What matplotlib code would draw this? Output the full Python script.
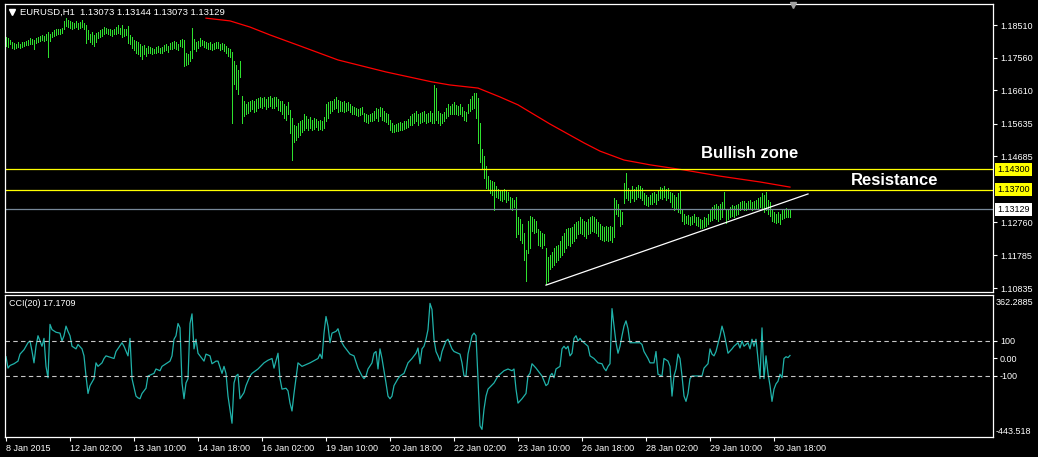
import numpy as np
import matplotlib
matplotlib.use("Agg")
import matplotlib.pyplot as plt
import matplotlib.transforms as mtransforms

plt.rcParams['font.family'] = ['Liberation Sans', 'DejaVu Sans']

# EURUSD H1 bars, in points above 1.1000 (1 pt = 0.0001)
high_pts = [
    815, 812, 808, 800, 798, 795, 800, 797, 802, 800, 805, 808, 813, 810, 808, 812, 815, 820, 822, 818,
    824, 831, 825, 832, 836, 838, 840, 838, 842, 862, 870, 866, 862, 860, 858, 862, 856, 860, 865, 858,
    851, 835, 826, 830, 822, 828, 832, 835, 840, 845, 842, 840, 838, 836, 840, 845, 852, 842, 850, 838,
    840, 848, 822, 815, 808, 805, 800, 795, 790, 792, 785, 790, 788, 785, 782, 786, 790, 785, 788, 792,
    795, 790, 798, 800, 805, 802, 795, 808, 810, 807, 770, 765, 775, 842, 810, 800, 805, 812, 808, 805,
    802, 798, 800, 795, 798, 800, 802, 796, 798, 795, 790, 785, 780, 772, 745, 735, 720, 745, 645, 630,
    620, 625, 630, 632, 628, 635, 638, 640, 637, 642, 635, 640, 645, 638, 640, 642, 635, 630, 630, 620,
    615, 625, 603, 580, 560, 555, 565, 570, 575, 590, 585, 578, 582, 575, 580, 577, 572, 575, 572, 582,
    620, 625, 630, 628, 635, 640, 632, 630, 625, 628, 622, 625, 620, 615, 612, 610, 605, 608, 612, 595,
    590, 588, 592, 595, 600, 610, 605, 612, 610, 600, 595, 590, 575, 565, 560, 562, 565, 568, 565, 570,
    572, 578, 585, 590, 595, 600, 590, 595, 598, 600, 592, 595, 600, 595, 676, 667, 600, 595, 590, 598,
    610, 620, 615, 620, 625, 618, 615, 620, 612, 600, 598, 620, 635, 645, 652, 652, 638, 565, 490, 470,
    440, 410, 400, 395, 392, 380, 372, 368, 370, 372, 368, 365, 350, 345, 340, 349, 290, 285, 270, 244,
    194, 280, 295, 290, 285, 280, 255, 250, 245, 240, 200, 175, 180, 190, 200, 205, 210, 220, 235, 245,
    255, 260, 258, 262, 270, 275, 280, 290, 285, 280, 275, 285, 290, 295, 292, 285, 275, 270, 265, 262,
    265, 262, 265, 262, 346, 340, 330, 310, 305, 390, 419, 375, 370, 380, 372, 378, 385, 380, 375, 360,
    355, 350, 355, 360, 365, 358, 370, 378, 375, 380, 372, 375, 365, 360, 355, 350, 360, 367, 310, 300,
    295, 298, 292, 295, 300, 292, 290, 285, 282, 290, 288, 300, 310, 320, 325, 330, 322, 328, 335, 364,
    311, 315, 320, 325, 322, 326, 330, 335, 338, 336, 333, 337, 340, 335, 338, 340, 345, 350, 360, 355,
    365, 340, 335, 310, 305, 300, 305, 300, 315, 310, 318, 312, 315]
low_pts = [
    790, 788, 795, 785, 780, 783, 786, 784, 788, 790, 792, 793, 797, 795, 780, 798, 800, 805, 808, 803,
    806, 758, 805, 815, 820, 823, 826, 825, 828, 840, 848, 845, 843, 840, 842, 845, 838, 843, 845, 838,
    798, 810, 800, 795, 790, 800, 812, 815, 818, 825, 827, 825, 822, 820, 824, 826, 828, 824, 817, 820,
    822, 798, 795, 785, 778, 770, 765, 760, 752, 765, 760, 770, 768, 765, 768, 770, 772, 768, 770, 775,
    778, 772, 780, 782, 785, 780, 778, 790, 788, 730, 735, 738, 745, 755, 780, 775, 785, 790, 792, 788,
    785, 780, 782, 778, 780, 784, 785, 778, 782, 775, 770, 760, 757, 565, 680, 665, 650, 700, 565, 585,
    590, 595, 600, 605, 598, 600, 610, 612, 608, 615, 605, 612, 615, 610, 610, 615, 602, 600, 590, 580,
    575, 590, 536, 457, 510, 515, 525, 530, 540, 545, 550, 545, 550, 545, 548, 552, 545, 548, 545, 550,
    570, 580, 595, 600, 605, 610, 598, 600, 600, 598, 600, 602, 598, 590, 592, 588, 585, 588, 590, 570,
    568, 565, 570, 572, 575, 580, 570, 585, 575, 570, 568, 562, 545, 538, 540, 542, 543, 545, 545, 548,
    550, 552, 558, 560, 565, 570, 560, 565, 568, 572, 565, 568, 570, 565, 565, 574, 565, 560, 565, 570,
    580, 585, 590, 590, 592, 590, 588, 592, 586, 575, 570, 595, 600, 605, 610, 580, 507, 450, 430, 405,
    375, 370, 362, 355, 312, 350, 345, 340, 338, 342, 335, 340, 315, 312, 320, 232, 240, 225, 215, 165,
    105, 185, 200, 250, 245, 248, 210, 205, 200, 210, 95, 105, 140, 145, 150, 160, 165, 175, 180, 190,
    200, 210, 205, 215, 220, 230, 240, 245, 240, 235, 230, 240, 245, 250, 248, 245, 235, 228, 225, 222,
    225, 222, 225, 218, 232, 300, 295, 265, 270, 332, 346, 340, 335, 345, 338, 342, 350, 345, 340, 330,
    325, 322, 328, 330, 335, 328, 340, 345, 342, 348, 340, 345, 335, 320, 310, 315, 305, 302, 280, 270,
    272, 270, 268, 270, 275, 268, 265, 260, 258, 262, 265, 270, 278, 282, 288, 285, 280, 285, 290, 317,
    273, 285, 290, 295, 292, 298, 300, 312, 315, 312, 310, 315, 318, 312, 315, 318, 315, 320, 318, 305,
    310, 300, 295, 278, 275, 273, 275, 270, 285, 288, 292, 290, 292]

# moving average readings (bar index, points above 1.1000)
ma_bar = [100, 112, 122, 132, 147, 166, 190, 213, 222, 236, 247, 256, 272, 289, 297, 309, 322, 339, 357, 377, 392]
ma_pts = [871, 863, 845, 822, 790, 749, 714, 685, 676, 667, 641, 618, 562, 507, 483, 457, 443, 428, 410, 393, 378]

# CCI(20) readings
cci_bar = [0, 1, 2, 4, 6, 7, 9, 10, 11, 12, 13, 14, 15, 16, 17, 18, 19, 20, 21, 22,
           23, 25, 27, 28, 29, 30, 31, 32, 33, 35, 36, 38, 39, 40, 41, 42, 44, 45, 46, 48,
           49, 50, 54, 55, 58, 59, 61, 62, 63, 65, 66, 67, 68, 70, 71, 74, 75, 77, 78, 82,
           83, 84, 85, 86, 87, 88, 89, 90, 91, 92, 93, 94, 95, 96, 99, 100, 102, 103, 105, 106,
           108, 109, 110, 111, 113, 114, 115, 116, 117, 119, 120, 122, 123, 126, 129, 131, 133, 134, 136, 137,
           138, 140, 141, 142, 143, 144, 145, 146, 148, 152, 156, 157, 158, 159, 160, 161, 162, 163, 165, 166,
           168, 169, 171, 172, 174, 176, 178, 179, 180, 181, 183, 184, 185, 186, 187, 188, 189, 190, 191, 192,
           193, 194, 196, 197, 199, 201, 203, 204, 205, 206, 207, 208, 209, 210, 211, 212, 213, 214, 215, 216,
           217, 218, 220, 221, 223, 224, 227, 228, 229, 230, 231, 233, 234, 235, 236, 237, 238, 239, 240, 241,
           244, 246, 249, 251, 253, 254, 255, 256, 258, 259, 260, 261, 262, 263, 265, 266, 267, 268, 270, 271,
           272, 273, 274, 275, 277, 278, 279, 280, 281, 282, 283, 284, 285, 286, 287, 288, 291, 292, 294, 296,
           298, 299, 300, 301, 302, 303, 305, 306, 307, 308, 309, 310, 311, 312, 317, 318, 319, 321, 322, 324,
           325, 326, 328, 329, 331, 332, 333, 334, 335, 336, 337, 338, 339, 340, 341, 342, 343, 348, 349, 351,
           352, 353, 354, 355, 357, 358, 359, 360, 361, 363, 364, 366, 367, 368, 369, 371, 372, 373, 374, 375,
           377, 378, 379, 380, 381, 382, 383, 384, 385, 386, 387, 388, 389, 390, 391, 392]
cci_val = [10, -55, -40, -30, -15, 25, 50, 70, 90, 100, 42, -25, 70, 130, 100, 70, 115, -45, -110, 195,
           165, 150, 145, 100, 130, 185, 155, 130, 70, 55, 80, 55, 15, -100, -200, -155, -115, -25, -45, -25,
           0, 15, 0, 40, 90, 70, 15, 115, -115, -215, -225, -230, -200, -170, -100, -85, -60, -70, -45, -15,
           15, 110, 130, 200, 175, -140, -230, -140, -115, 200, 255, 55, 110, 30, -15, 25, 15, -30, -15, -15,
           -85, -45, -85, -215, -370, -140, -100, -90, -230, -195, -155, -100, -85, -60, -25, -10, 0, -55, 30, -115,
           -175, -170, -185, -255, -300, -200, -110, -25, -45, -25, 0, 25, 0, 145, 240, 185, 90, 145, 155, 170,
           90, 70, 40, 25, 15, -55, -100, -115, -100, -60, -25, 30, 40, -60, 55, 0, -70, -140, -215, -230,
           -215, -155, -115, -100, -85, -25, 0, 15, 30, 60, -30, 55, 70, 110, 165, 315, 280, 110, 40, 15,
           -15, 40, 100, 110, 55, 40, 25, -25, -100, -100, 25, 130, 145, 130, -115, -385, -405, -290, -215, -175,
           -140, -100, -70, -60, -70, -60, -175, -255, -230, -215, -200, -100, -85, -30, -55, -70, -85, -100, -155, -145,
           -100, -85, -110, -60, -45, 55, 70, 55, 70, 15, 30, 115, 130, 100, 115, 100, 70, 15, 0, -25,
           -30, -55, -70, -45, -30, 285, 90, 30, 70, 130, 185, 215, 170, 90, 90, 80, 40, 0, -25, -25,
           40, -90, -100, 0, -15, -45, -215, -100, -60, 25, 0, -100, -215, -245, -200, -115, -100, -100, -55, -30,
           55, 25, 15, 40, 130, 185, 145, 90, 30, 55, 70, 90, 60, 100, 70, 90, 55, 110, 70, 110,
           -115, 175, -115, 15, -85, -155, -245, -175, -145, -130, -90, -110, 0, 10, 5, 17.1709]

tick_bars = [0, 32, 64, 96, 128, 160, 192, 224, 256, 288, 320, 352, 384]
tick_labels = ['8 Jan 2015', '12 Jan 02:00', '13 Jan 10:00', '14 Jan 18:00', '16 Jan 02:00',
               '19 Jan 10:00', '20 Jan 18:00', '22 Jan 02:00', '23 Jan 10:00', '26 Jan 18:00',
               '28 Jan 02:00', '29 Jan 10:00', '30 Jan 18:00']
price_ticks = [1.18510, 1.17560, 1.16610, 1.15635, 1.14685, 1.12760, 1.11785, 1.10835]
resistance = [1.14300, 1.13700]
bid = 1.13129
trend_bar = [270, 401]
trend_price = [1.1092, 1.1358]

highs = 1.1 + np.array(high_pts) / 1e4
lows = 1.1 + np.array(low_pts) / 1e4
bars = np.arange(len(highs))
ma = 1.1 + np.array(ma_pts) / 1e4

W, H = 1038, 457
fig = plt.figure(figsize=(W / 100, H / 100), dpi=100, facecolor='black')


def pane(left, top, right, bottom):
    a = fig.add_axes([left / W, 1 - bottom / H, (right - left) / W, (bottom - top) / H])
    a.set_facecolor('black')
    for s in a.spines.values():
        s.set_color('white')
        s.set_linewidth(0.9)
    a.set_xlim(-0.5, 493.5)
    return a


ax = pane(5, 4, 993, 292)
ax2 = pane(5, 295, 993, 437)

# price pane
ax.set_ylim(1.10719, 1.19123)
ax.vlines(bars, lows, highs, colors='#2ee02e', linewidth=0.5, antialiased=False)
ax.plot(ma_bar, ma, color='#ff0000', lw=0.9)
for lvl in resistance:
    ax.axhline(lvl, color='#ffff00', lw=0.9)
ax.axhline(bid, color='#778899', lw=0.9)
ax.plot(trend_bar, trend_price, color='white', lw=0.9)

ax.set_xticks([])
ax.yaxis.tick_right()
ax.set_yticks(price_ticks)
ax.set_yticklabels(['%.5f' % p for p in price_ticks])
ax.tick_params(axis='y', colors='white', length=3, width=0.8, pad=2, labelsize=6.5)

tr = mtransforms.blended_transform_factory(ax.transAxes, ax.transData)
for lvl in resistance:
    ax.text(1.0045, lvl, '%.5f' % lvl, transform=tr, va='center', ha='left', fontsize=6.5,
            color='black', bbox=dict(facecolor='#ffff00', edgecolor='none', pad=1.5))
ax.text(1.0045, bid, '%.5f' % bid, transform=tr, va='center', ha='left', fontsize=6.5,
        color='black', bbox=dict(facecolor='white', edgecolor='none', pad=1.5))

ax.text(372, 1.1477, 'Bullish zone', color='white', fontsize=12, fontweight='bold',
        ha='center', va='center', family=['Liberation Sans Narrow', 'Liberation Sans', 'DejaVu Sans'])
ax.text(444.5, 1.1396, 'Resistance', color='white', fontsize=12, fontweight='bold',
        ha='center', va='center', family=['Liberation Sans Narrow', 'Liberation Sans', 'DejaVu Sans'])

fig.text(20.5 / W, 1 - 12.5 / H, 'EURUSD,H1  1.13073 1.13144 1.13073 1.13129',
         color='white', fontsize=6.8, va='center', ha='left')
fig.lines.append(plt.Line2D([12 / W], [1 - 12 / H], marker='v', color='white', markersize=4,
                            transform=fig.transFigure, linestyle='none'))
fig.lines.append(plt.Line2D([793 / W], [1 - 5 / H], marker='v', color='#a0a0a0', markersize=5,
                            transform=fig.transFigure, linestyle='none'))

# CCI pane
ax2.set_ylim(-448.6, 362.8)
ax2.plot(cci_bar, cci_val, color='#20b2aa', lw=0.9)
for lvl in (100, -100):
    ax2.axhline(lvl, color='#c8c8c8', lw=0.8, linestyle=(0, (4, 3)))
ax2.yaxis.tick_right()
ax2.set_yticks([100, 0, -100])
ax2.set_yticklabels(['100', '0.00', '-100'])
ax2.tick_params(axis='y', colors='white', length=3, width=0.8, pad=2, labelsize=6.5)
ax2.text(1.003, 0.95, '362.2885', transform=ax2.transAxes, color='white', fontsize=6.5,
         va='center', ha='left')
ax2.text(1.003, 0.04, '-443.518', transform=ax2.transAxes, color='white', fontsize=6.5,
         va='center', ha='left')
ax2.text(0.004, 0.94, 'CCI(20) 17.1709', transform=ax2.transAxes, color='white', fontsize=6.5,
         va='center', ha='left')

ax2.set_xticks(tick_bars)
ax2.set_xticklabels(tick_labels, ha='left')
ax2.tick_params(axis='x', colors='white', length=3, width=0.8, pad=2, labelsize=6.5)

fig.savefig('out.png', dpi=100, facecolor='black')
